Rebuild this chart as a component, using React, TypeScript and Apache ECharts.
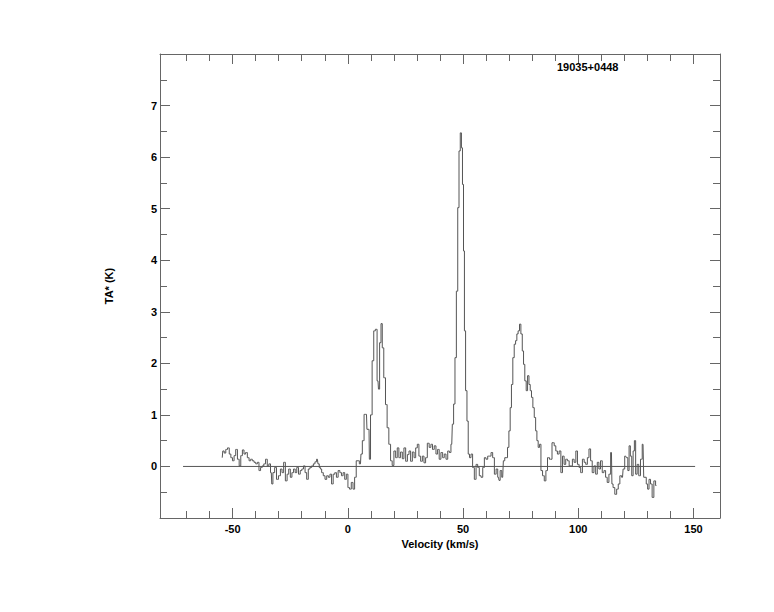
import React, { useEffect, useRef } from "react";
import * as echarts from "echarts";

// Spectrum channels (km/s) and antenna temperature TA* (K)
const velocity = [
  -54.5, -54.0, -53.3, -52.6, -51.8, -51.1, -50.4, -49.7, -49.0, -48.3, -47.5, -46.8, -46.1, -45.4, -44.7, -44.0,
  -43.2, -42.5, -41.8, -41.1, -40.3, -39.6, -38.9, -38.2, -37.5, -36.8, -36.1, -35.3, -34.6, -33.9, -33.2, -32.8,
  -32.2, -31.3, -30.6, -29.6, -28.9, -28.2, -27.5, -26.7, -26.0, -25.3, -24.6, -23.9, -23.2, -22.5, -21.8, -21.0,
  -20.3, -19.6, -18.9, -18.2, -17.5, -16.8, -16.1, -15.3, -14.6, -13.9, -13.2, -12.7, -12.1, -11.7, -11.0, -10.3,
  -9.5, -8.8, -8.1, -7.4, -6.7, -6.0, -5.3, -4.6, -3.8, -3.1, -2.4, -1.7, -1.0, -0.3, 0.4, 1.1,
  1.9, 2.6, 3.3, 4.0, 4.5, 5.5, 5.9, 6.7, 7.4, 8.1, 8.5, 9.2, 9.5, 10.2, 10.9, 11.6,
  12.3, 13.1, 13.5, 14.1, 14.7, 15.2, 16.0, 16.7, 17.4, 18.2, 18.9, 19.6, 20.4, 21.1, 21.8, 22.5,
  23.3, 24.0, 24.7, 25.5, 26.2, 26.9, 27.6, 28.4, 29.1, 29.8, 30.5, 31.2, 32.0, 32.7, 33.4, 34.1,
  34.9, 35.7, 36.4, 37.1, 37.9, 38.6, 39.3, 40.0, 40.8, 41.5, 42.2, 43.0, 43.7, 44.4, 45.1, 45.6,
  46.2, 46.8, 47.4, 48.0, 48.5, 49.1, 49.5, 50.0, 50.4, 50.8, 51.4, 52.0, 52.5, 53.1, 53.8, 54.5,
  55.3, 56.0, 56.7, 57.4, 58.2, 58.9, 59.6, 60.3, 61.1, 61.8, 62.5, 63.2, 64.0, 64.7, 65.4, 65.8,
  66.4, 67.2, 67.8, 68.4, 69.0, 69.6, 70.2, 70.7, 71.3, 71.9, 72.5, 73.1, 73.6, 74.2, 74.8, 75.4,
  76.0, 76.5, 77.1, 77.7, 78.3, 78.9, 79.4, 80.0, 80.6, 81.2, 81.8, 82.3, 82.9, 83.5, 84.1, 84.9,
  85.6, 86.3, 87.0, 88.0, 89.2, 89.9, 90.6, 91.3, 92.1, 92.8, 93.5, 94.2, 94.9, 95.7, 96.4, 97.1,
  97.8, 98.6, 99.3, 100.0, 100.7, 101.4, 102.2, 102.9, 103.6, 104.3, 105.0, 105.7, 106.4, 107.2, 107.9, 108.6,
  109.3, 110.0, 110.8, 111.5, 112.2, 112.9, 113.7, 114.4, 114.8, 115.4, 116.3, 117.0, 117.7, 118.4, 119.2, 119.7,
  120.6, 121.2, 121.8, 122.3, 122.9, 123.5, 124.1, 124.6, 125.2, 125.9, 126.6, 127.4, 128.1, 128.7, 129.2, 129.8,
  130.4, 131.0, 131.7, 132.4, 133.2, 133.9,
];

const antennaTemp = [
  0.17, 0.30, 0.26, 0.33, 0.36, 0.24, 0.17, 0.11, 0.21, 0.33, 0.14, 0.01, 0.21, 0.32, 0.24, 0.27,
  0.17, 0.11, 0.14, 0.11, 0.08, 0.05, 0.08, -0.08, -0.02, 0.01, 0.05, 0.14, 0.01, 0.05, -0.12, -0.34,
  -0.12, -0.02, -0.25, -0.18, -0.05, -0.12, 0.08, -0.28, -0.15, -0.05, -0.21, -0.12, -0.05, -0.12, -0.02, -0.15,
  -0.08, -0.05, 0.01, -0.12, -0.25, -0.05, -0.02, 0.01, 0.05, 0.09, 0.14, 0.05, -0.02, -0.05, -0.12, -0.18,
  -0.25, -0.18, -0.21, -0.15, -0.34, -0.15, -0.12, -0.21, -0.08, -0.12, -0.18, -0.12, -0.25, -0.15, -0.41, -0.44,
  -0.31, -0.44, -0.21, 0.11, 0.11, 0.05, 0.24, 0.50, 1.01, 1.01, 0.72, 0.72, 0.14, 1.00, 2.05, 2.63,
  2.66, 1.66, 1.50, 2.40, 2.77, 2.30, 1.72, 1.20, 0.75, 0.43, 0.11, 0.02, 0.30, 0.17, 0.36, 0.17,
  0.28, 0.15, 0.36, 0.10, 0.23, 0.30, 0.10, 0.28, 0.17, 0.36, 0.43, 0.20, 0.10, 0.20, 0.07, 0.17,
  0.45, 0.37, 0.43, 0.33, 0.40, 0.24, 0.33, 0.14, 0.27, 0.17, 0.24, 0.14, 0.30, 0.27, 0.43, 0.82,
  1.21, 2.11, 3.40, 5.02, 6.12, 6.47, 6.18, 5.47, 4.18, 2.63, 1.47, 0.88, 0.24, 0.17, 0.24, -0.02,
  -0.25, 0.04, -0.02, -0.18, -0.21, -0.02, 0.17, 0.14, 0.20, 0.20, 0.27, 0.17, -0.15, -0.05, -0.21, -0.27,
  -0.08, -0.21, 0.11, 0.17, 0.17, 0.37, 0.69, 1.14, 1.59, 2.11, 2.37, 2.44, 2.57, 2.63, 2.76, 2.57,
  2.24, 1.98, 1.66, 1.47, 1.76, 1.59, 1.47, 1.34, 1.14, 0.95, 0.69, 0.50, 0.37, 0.43, -0.08, -0.18,
  -0.28, -0.08, 0.17, 0.14, 0.46, 0.40, 0.30, 0.24, 0.30, -0.12, 0.20, 0.04, 0.14, 0.11, 0.01, 0.01,
  0.14, 0.08, 0.30, 0.04, -0.02, -0.12, 0.14, 0.08, 0.04, 0.17, 0.34, 0.11, -0.12, 0.01, -0.15, 0.08,
  -0.05, 0.11, -0.12, -0.08, -0.21, -0.31, -0.15, 0.27, -0.34, -0.41, -0.54, -0.44, -0.34, -0.18, -0.21, -0.05,
  0.20, 0.17, -0.08, 0.40, 0.20, -0.18, 0.30, 0.50, -0.15, 0.04, -0.18, 0.14, 0.43, -0.21, -0.21, -0.34,
  -0.44, -0.25, -0.34, -0.60, -0.28, -0.37,
];

const baselineVelocity = [-71.5, 150.7];
const baselineTemp = [0, 0];
const xMajorTicks = [-50, 0, 50, 100, 150];
const xMinorTicks = [-70, -60, -40, -30, -20, -10, 10, 20, 30, 40, 60, 70, 80, 90, 110, 120, 130, 140];
const sourceName = "19035+0448";
const xAxisName = "Velocity (km/s)";
const yAxisName = "TA* (K)";

const AXIS_COLOR = "#666666";
const LINE_COLOR = "#555555";
const FONT = '"Liberation Sans", Arial, Helvetica, sans-serif';

export default function App() {
  const ref = useRef<HTMLDivElement>(null);

  useEffect(() => {
    if (!ref.current) return;
    const chart = echarts.init(ref.current, null, { renderer: "svg" });

    const xBase = (position: string, ticks: number[], len: number, line: boolean) => ({
      type: "value",
      min: -81.5,
      max: 161.5,
      position,
      axisLine: { show: line, onZero: false, lineStyle: { color: AXIS_COLOR, width: 1 } },
      axisTick: { show: true, inside: true, length: len, customValues: ticks, lineStyle: { color: AXIS_COLOR, width: 1 } },
      axisLabel: { show: false },
      splitLine: { show: false },
    });

    const yBase = (position: string, labels: boolean) => ({
      type: "value",
      min: -1,
      max: 8,
      interval: 1,
      position,
      axisLine: { show: true, onZero: false, lineStyle: { color: AXIS_COLOR, width: 1 } },
      axisTick: { show: true, inside: true, length: 10, lineStyle: { color: AXIS_COLOR, width: 1 } },
      minorTick: { show: true, splitNumber: 2, length: 7, lineStyle: { color: AXIS_COLOR, width: 1 } },
      axisLabel: {
        show: labels,
        showMinLabel: false,
        showMaxLabel: false,
        color: "#000",
        fontWeight: "bold",
        fontSize: 11,
        fontFamily: FONT,
        margin: 3,
      },
      splitLine: { show: false },
      minorSplitLine: { show: false },
    });

    const xMain: any = xBase("bottom", xMajorTicks, 10, true);
    xMain.axisLabel = {
      show: true,
      customValues: xMajorTicks,
      color: "#000",
      fontWeight: "bold",
      fontSize: 11,
      fontFamily: FONT,
      margin: 5,
    };
    xMain.name = xAxisName;
    xMain.nameLocation = "middle";
    xMain.nameGap = 13;
    xMain.nameTextStyle = { color: "#000", fontWeight: "bold", fontSize: 11, fontFamily: FONT };

    const yMain: any = yBase("left", true);
    yMain.name = yAxisName;
    yMain.nameLocation = "middle";
    yMain.nameRotate = 90;
    yMain.nameGap = 46;
    yMain.nameTextStyle = { color: "#000", fontWeight: "bold", fontSize: 11, fontFamily: FONT };

    chart.setOption({
      animation: false,
      backgroundColor: "#ffffff",
      title: {
        text: sourceName,
        left: 557,
        top: 61,
        padding: 0,
        textStyle: { color: "#000", fontWeight: "bold", fontSize: 11, fontFamily: FONT },
      },
      grid: { left: 160, right: 54, top: 54, bottom: 94, containLabel: false },
      xAxis: [
        xMain,
        xBase("bottom", xMinorTicks, 7, false),
        xBase("top", xMajorTicks, 10, true),
        xBase("top", xMinorTicks, 7, false),
      ],
      yAxis: [yMain, yBase("right", false)],
      series: [
        {
          type: "line",
          xAxisIndex: 0,
          yAxisIndex: 0,
          data: baselineVelocity.map((v, i) => [v, baselineTemp[i]]),
          symbol: "none",
          lineStyle: { color: LINE_COLOR, width: 1 },
          silent: true,
        },
        {
          type: "line",
          xAxisIndex: 0,
          yAxisIndex: 0,
          step: "middle",
          data: velocity.map((v, i) => [v, antennaTemp[i]]),
          symbol: "none",
          showSymbol: false,
          lineStyle: { color: LINE_COLOR, width: 1 },
          silent: true,
        },
      ],
    });

    return () => chart.dispose();
  }, []);

  return (
    <div
      ref={ref}
      style={{ position: "fixed", left: 0, top: 0, width: 774, height: 612, background: "#fff" }}
    />
  );
}
